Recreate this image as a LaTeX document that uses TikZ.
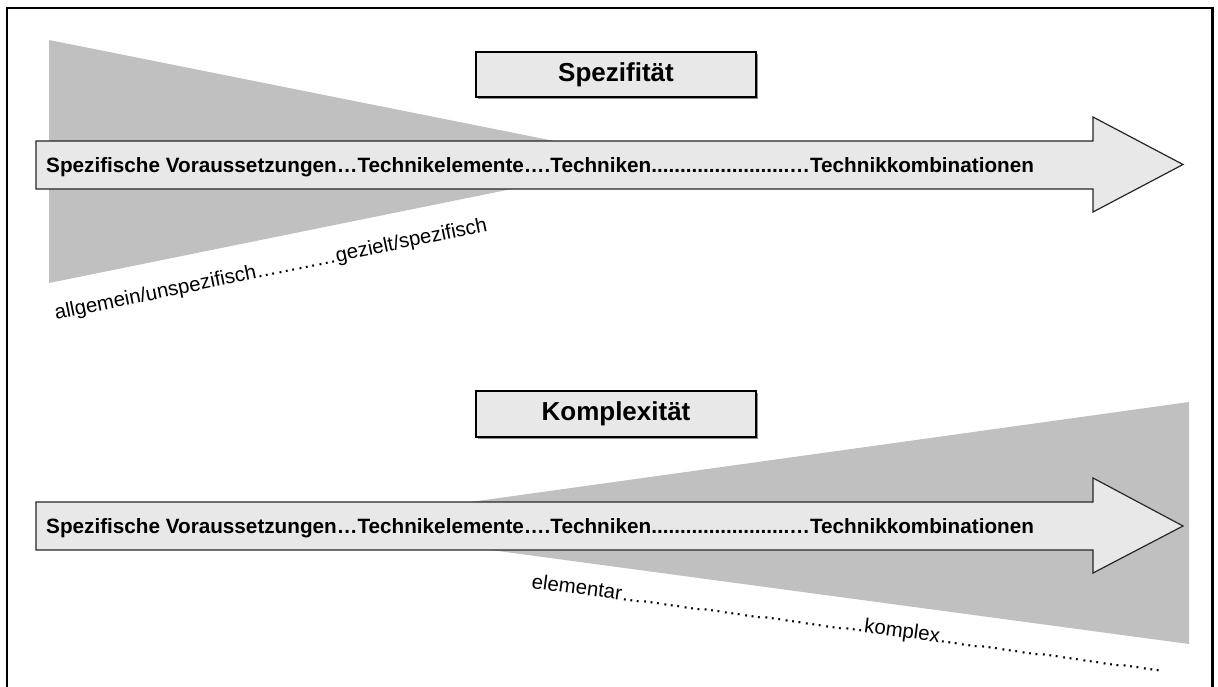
\documentclass[tikz,border=0pt]{standalone}
\usepackage{fontspec}
\setmainfont{Liberation Sans}
\newcommand{\ellrep}[1]{\foreach \k in {1,...,#1}{…}}
\newcommand{\perrep}[1]{\foreach \k in {1,...,#1}{.}}
\begin{document}
\begin{tikzpicture}[x=1pt,y=-1pt,
  wedge/.style={fill=wedgegray, draw=none},
  bigarrow/.style={fill=arrowfill, draw=black!85, line width=1.2pt, line join=miter},
  titlebox/.style={fill=arrowfill, draw=black, line width=1.3pt, minimum width=280pt, inner sep=0pt},
  arrowtext/.style={anchor=base west, inner sep=0pt, font=\fontsize{20.7}{24}\selectfont\bfseries},
  titletext/.style={font=\fontsize{26}{30}\selectfont\bfseries},
  slanttext/.style={anchor=base west, inner sep=0pt, font=\fontsize{20.4}{24}\selectfont}]
\definecolor{wedgegray}{HTML}{C0C0C0}
\definecolor{arrowfill}{HTML}{E8E8E8}
\useasboundingbox (0,0) rectangle (1218,686);
\fill[white] (0,0) rectangle (1218,686);
% frame
\draw[line width=2.6pt] (7,700) -- (7,8) -- (1212.5,8) -- (1212.5,700);

% ---------- top part ----------
\fill[wedge] (49,40) -- (652,160.5) -- (49,283) -- cycle;
\fill[black!45] (478,54) rectangle (758,99);
\node[titlebox, minimum height=45pt, titletext] (spez) at (616,74.5) {Spezifität};
\draw[bigarrow] (36,141) -- (1093,141) -- (1093,117) -- (1183,164.5) -- (1093,212) -- (1093,189) -- (36,189) -- cycle;
\node[arrowtext] (row1) at (46,172.9) {Spezifische Voraussetzungen…Technikelemente….Techniken\perrep{24}…Technikkombinationen};
\node[slanttext, rotate=11.66] (spezscale) at (56,320) {allgemein/unspezifisch\ellrep{4}gezielt/spezifisch};

% ---------- bottom part ----------
\fill[wedge] (305,525) -- (1189,402) -- (1189,644) -- cycle;
\fill[black!45] (478,393) rectangle (758,439);
\node[titlebox, minimum height=46pt, titletext] (kompl) at (616,414) {Komplexität};
\draw[bigarrow] (36,502) -- (1093,502) -- (1093,478) -- (1183,526) -- (1093,573) -- (1093,550) -- (36,550) -- cycle;
\node[arrowtext] (row2) at (46,533.4) {Spezifische Voraussetzungen…Technikelemente….Techniken\perrep{24}…Technikkombinationen};
\node[slanttext, rotate=-7.6] (komplscale) at (531,588) {elementar\ellrep{12}komplex\ellrep{11}};
\end{tikzpicture}
\end{document}
